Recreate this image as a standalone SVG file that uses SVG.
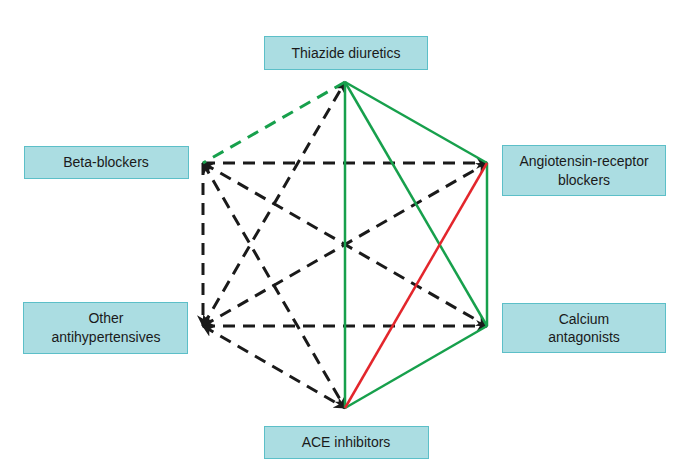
<svg xmlns="http://www.w3.org/2000/svg" width="686" height="465" viewBox="0 0 686 465">
<style>
.box{fill:#abdde2;stroke:#5cbfc8;stroke-width:1}
.lbl{font-family:"Liberation Sans",Arial,sans-serif;font-size:14px;fill:#1a1a1a;text-anchor:middle}
.g{stroke:#17a04c;stroke-width:2.5;fill:none}
.gd{stroke:#17a04c;stroke-width:3;fill:none;stroke-dasharray:12 8}
.r{stroke:#e3262c;stroke-width:2.5;fill:none}
.k{stroke:#1a1a1a;stroke-width:3;fill:none;stroke-dasharray:12 8}
</style>
<defs>
<marker id="ah" viewBox="0 0 10 10" refX="9" refY="5" markerWidth="4" markerHeight="4" orient="auto-start-reverse" markerUnits="strokeWidth">
<path d="M0,0 L10,5 L0,10 L3,5 z" fill="#1a1a1a"/>
</marker>
</defs>
<rect width="686" height="465" fill="#ffffff"/>
<g id="connectors">
<line class="k" x1="203" y1="163" x2="487" y2="163" marker-end="url(#ah)"/>
<line class="k" x1="203" y1="326" x2="487" y2="326" marker-end="url(#ah)"/>
<line class="k" x1="203" y1="163" x2="203" y2="326" marker-end="url(#ah)"/>
<line class="k" x1="203" y1="163" x2="487" y2="326" marker-start="url(#ah)" marker-end="url(#ah)"/>
<line class="k" x1="203" y1="326" x2="487" y2="163" marker-start="url(#ah)" marker-end="url(#ah)"/>
<line class="k" x1="203" y1="163" x2="345" y2="408" marker-start="url(#ah)" marker-end="url(#ah)"/>
<line class="k" x1="203" y1="326" x2="345" y2="82" marker-start="url(#ah)" marker-end="url(#ah)"/>
<line class="k" x1="203" y1="326" x2="345" y2="408" marker-start="url(#ah)" marker-end="url(#ah)"/>
<line class="gd" x1="345" y1="82" x2="203" y2="163"/>
<line class="g" x1="345" y1="82" x2="487" y2="163"/>
<line class="g" x1="345" y1="82" x2="487" y2="326"/>
<line class="g" x1="345" y1="82" x2="345" y2="408"/>
<line class="g" x1="487" y1="163" x2="487" y2="326"/>
<line class="g" x1="487" y1="326" x2="345" y2="408"/>
<line class="r" x1="487" y1="163" x2="345" y2="408"/>
</g>
<g id="thiazide">
<rect class="box" x="264.5" y="36.5" width="163" height="33"/>
<text class="lbl" x="346" y="58">Thiazide diuretics</text>
</g>
<g id="beta">
<rect class="box" x="24.5" y="146.5" width="164" height="32"/>
<text class="lbl" x="106" y="167">Beta-blockers</text>
</g>
<g id="arb">
<rect class="box" x="502.5" y="145.5" width="163" height="50"/>
<text class="lbl" x="584" y="166">Angiotensin-receptor</text>
<text class="lbl" x="584" y="185">blockers</text>
</g>
<g id="other">
<rect class="box" x="23.5" y="302.5" width="164" height="51"/>
<text class="lbl" x="106" y="323">Other</text>
<text class="lbl" x="106" y="342">antihypertensives</text>
</g>
<g id="calcium">
<rect class="box" x="502.5" y="303.5" width="163" height="49"/>
<text class="lbl" x="584" y="324">Calcium</text>
<text class="lbl" x="584" y="342">antagonists</text>
</g>
<g id="ace">
<rect class="box" x="264.5" y="426.5" width="164" height="32"/>
<text class="lbl" x="346" y="447">ACE inhibitors</text>
</g>
</svg>
